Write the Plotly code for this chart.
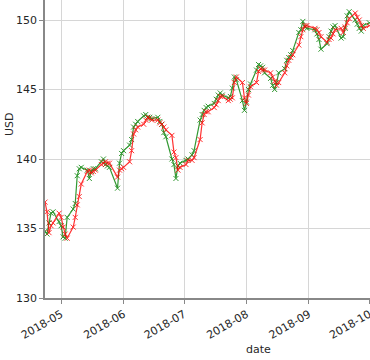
import plotly.graph_objects as go

dates = [
    "2018-04-23", "2018-04-24", "2018-04-25", "2018-04-26", "2018-04-27", "2018-04-30",
    "2018-05-01", "2018-05-02", "2018-05-03", "2018-05-04", "2018-05-07", "2018-05-08",
    "2018-05-09", "2018-05-10", "2018-05-11", "2018-05-14", "2018-05-15", "2018-05-16",
    "2018-05-17", "2018-05-18", "2018-05-21", "2018-05-22", "2018-05-23", "2018-05-24",
    "2018-05-25", "2018-05-29", "2018-05-30", "2018-05-31", "2018-06-01", "2018-06-04",
    "2018-06-05", "2018-06-06", "2018-06-07", "2018-06-08", "2018-06-11", "2018-06-12",
    "2018-06-13", "2018-06-14", "2018-06-15", "2018-06-18", "2018-06-19", "2018-06-20",
    "2018-06-21", "2018-06-22", "2018-06-25", "2018-06-26", "2018-06-27", "2018-06-28",
    "2018-06-29", "2018-07-02", "2018-07-03", "2018-07-05", "2018-07-06", "2018-07-09",
    "2018-07-10", "2018-07-11", "2018-07-12", "2018-07-13", "2018-07-16", "2018-07-17",
    "2018-07-18", "2018-07-19", "2018-07-20", "2018-07-23", "2018-07-24", "2018-07-25",
    "2018-07-26", "2018-07-27", "2018-07-30", "2018-07-31", "2018-08-01", "2018-08-02",
    "2018-08-03", "2018-08-06", "2018-08-07", "2018-08-08", "2018-08-09", "2018-08-10",
    "2018-08-13", "2018-08-14", "2018-08-15", "2018-08-16", "2018-08-17", "2018-08-20",
    "2018-08-21", "2018-08-22", "2018-08-23", "2018-08-24", "2018-08-27", "2018-08-28",
    "2018-08-29", "2018-08-30", "2018-08-31", "2018-09-04", "2018-09-05", "2018-09-06",
    "2018-09-07", "2018-09-10", "2018-09-11", "2018-09-12", "2018-09-13", "2018-09-14",
    "2018-09-17", "2018-09-18", "2018-09-19", "2018-09-20", "2018-09-21", "2018-09-24",
    "2018-09-25", "2018-09-26", "2018-09-27", "2018-09-28", "2018-10-01",
]

green_usd = [
    134.8, 134.6, 135.4, 136.1, 136.2, 135.5,
    135.2, 134.4, 134.3, 135.8, 136.4, 136.8,
    138.8, 139.3, 139.4, 139.2, 138.6, 139.1,
    139.3, 139.3, 139.8, 140.0, 139.6, 139.5,
    139.4, 137.9, 139.7, 140.4, 140.6, 141.0,
    141.4, 142.3, 142.5, 142.7, 143.1, 143.2,
    143.0, 143.0, 142.9, 143.0, 142.7, 142.5,
    141.9, 141.6, 140.0, 139.6, 138.6, 139.5,
    139.7, 139.9, 140.0, 140.3, 140.6, 142.8,
    143.2, 143.5, 143.7, 143.8, 144.0, 144.3,
    144.6, 144.75, 144.6, 144.4, 144.5, 145.1,
    145.9, 145.7, 144.2, 143.5, 144.1, 145.0,
    145.4, 146.4, 146.8, 146.7, 146.6, 146.2,
    145.8, 145.3, 145.0, 145.5, 146.2, 146.5,
    147.1, 147.3, 147.5, 147.8, 149.1, 149.3,
    149.9, 149.5, 149.4, 149.3, 149.0, 148.6,
    147.9, 148.3, 148.8, 149.2, 149.5, 149.6,
    148.7, 148.8, 149.4, 150.3, 150.6, 150.0,
    149.7, 149.4, 149.2, 149.6, 149.8,
]

red_usd = [
    136.9, 136.2, 134.7, 135.2, 135.4, 136.1,
    135.8, 135.1, 134.6, 134.3, 135.1, 135.8,
    136.7, 137.3, 138.2, 139.1, 139.2, 139.0,
    139.1, 139.2, 139.6, 139.7, 139.8, 139.7,
    139.7, 138.7, 139.2, 139.3, 139.4, 139.8,
    140.6, 141.8, 142.1, 142.3, 142.5, 142.8,
    143.0, 142.9, 142.8, 142.8, 142.6, 142.5,
    142.3, 142.1, 141.7, 140.5, 140.1, 139.2,
    139.4, 139.6, 139.9, 139.9, 140.1, 141.4,
    142.6, 143.2, 143.4, 143.4, 143.7, 143.9,
    144.2, 144.5, 144.5, 144.2, 144.3, 144.4,
    145.5, 145.9, 145.5, 144.4, 144.0, 144.6,
    145.2, 145.5, 146.3, 146.5, 146.4, 146.4,
    146.2, 145.9, 145.6, 145.3, 145.5, 146.2,
    146.7, 147.1, 147.3, 147.5, 148.2, 148.8,
    149.3, 149.6, 149.6, 149.4, 149.3, 149.1,
    148.8, 148.4, 148.6, 148.7, 149.0, 149.3,
    149.4, 149.1, 149.5, 149.8, 150.1, 150.5,
    150.2, 150.0, 149.6, 149.4, 149.6,
]

y_ticks = [130, 135, 140, 145, 150]
x_tick_dates = ["2018-05-01", "2018-06-01", "2018-07-01", "2018-08-01", "2018-09-01", "2018-10-01"]
x_tick_labels = ["2018-05", "2018-06", "2018-07", "2018-08", "2018-09", "2018-10"]

font_family = "DejaVu Sans"
text_color = "#262626"

fig = go.Figure()
fig.add_trace(go.Scatter(
    x=dates, y=green_usd, mode="lines+markers",
    line=dict(color="green", width=1.2),
    marker=dict(symbol="x-thin", size=5, line=dict(color="green", width=1)),
    opacity=0.8, showlegend=False,
))
fig.add_trace(go.Scatter(
    x=dates, y=red_usd, mode="lines+markers",
    line=dict(color="red", width=1.2),
    marker=dict(symbol="x-thin", size=5, line=dict(color="red", width=1)),
    opacity=0.8, showlegend=False,
))

fig.update_layout(
    width=370, height=360,
    margin=dict(l=45, r=0, t=0, b=62),
    paper_bgcolor="white", plot_bgcolor="white",
    font=dict(family=font_family, size=11, color=text_color),
    xaxis=dict(
        range=["2018-04-23", "2018-10-01 08:00"],
        tickvals=x_tick_dates, ticktext=x_tick_labels,
        tickangle=-30, ticks="outside", ticklen=4, tickcolor="#888",
        ticklabeloverflow="allow",
        showgrid=True, gridcolor="#d6d6d6", gridwidth=1,
        showline=True, linecolor="#888", linewidth=1.5,
        zeroline=False, automargin=False,
        tickfont=dict(size=11, color=text_color),
    ),
    yaxis=dict(
        range=[130, 151.44],
        tickvals=y_ticks,
        ticks="outside", ticklen=4, tickcolor="#888",
        ticklabeloverflow="allow",
        showgrid=True, gridcolor="#d6d6d6", gridwidth=1,
        showline=True, linecolor="#888", linewidth=1.5,
        zeroline=False, automargin=False,
        tickfont=dict(size=11, color=text_color),
    ),
    annotations=[
        dict(text="date", xref="paper", yref="paper", x=(258 - 45) / 325, y=(298 - 349) / 298,
             xanchor="center", yanchor="middle", showarrow=False,
             font=dict(size=11, color=text_color, family=font_family)),
        dict(text="USD", xref="paper", yref="paper", x=(10 - 45) / 325, y=(298 - 124) / 298,
             xanchor="center", yanchor="middle", showarrow=False, textangle=-90,
             font=dict(size=11, color=text_color, family=font_family)),
    ],
)

fig.write_html("out.html", config={"displayModeBar": False},
               post_script="document.body.style.margin='0';")
